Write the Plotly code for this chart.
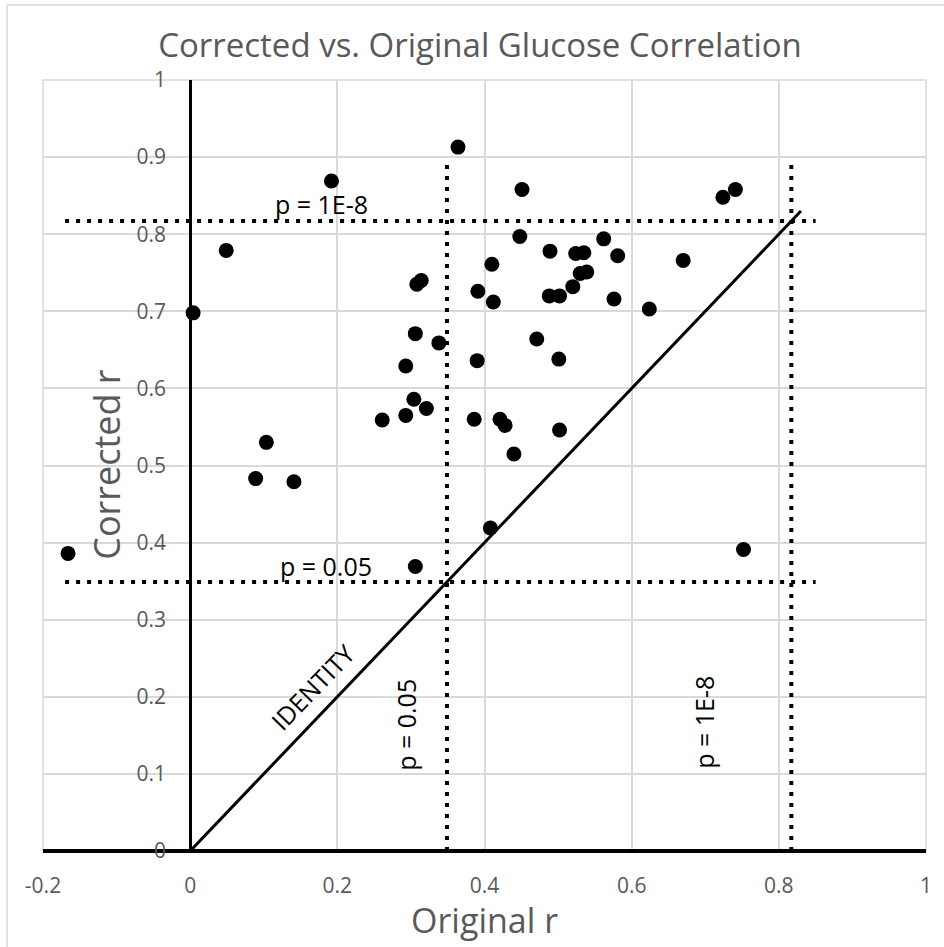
import plotly.graph_objects as go

# ---- data ----
original_r = [-0.166, 0.004, 0.049, 0.089, 0.1035, 0.141, 0.192, 0.261, 0.293, 0.293,
              0.304, 0.306, 0.306, 0.308, 0.314, 0.321, 0.338, 0.364, 0.386, 0.390,
              0.391, 0.408, 0.410, 0.412, 0.421, 0.428, 0.440, 0.448, 0.451, 0.471,
              0.488, 0.489, 0.501, 0.502, 0.502, 0.520, 0.524, 0.530, 0.535, 0.539,
              0.562, 0.576, 0.581, 0.624, 0.670, 0.724, 0.741, 0.752]
corrected_r = [0.386, 0.698, 0.779, 0.483, 0.530, 0.479, 0.869, 0.559, 0.629, 0.565,
               0.586, 0.671, 0.369, 0.735, 0.740, 0.574, 0.659, 0.913, 0.560, 0.636,
               0.726, 0.419, 0.761, 0.712, 0.560, 0.552, 0.515, 0.797, 0.858, 0.664,
               0.720, 0.778, 0.638, 0.720, 0.546, 0.732, 0.775, 0.749, 0.776, 0.751,
               0.794, 0.716, 0.772, 0.703, 0.766, 0.848, 0.858, 0.391]

thresholds_r = [0.349, 0.817]          # r at p = 0.05 and p = 1E-8
threshold_labels = ["p = 0.05", "p = 1E-8"]
hline_x_extent = [-0.17, 0.85]
vline_y_extent = [0.0, 0.89]
identity_extent = [0.0, 0.83]

x_tickvals = [-0.2, 0, 0.2, 0.4, 0.6, 0.8, 1]
x_ticktext = ["-0.2", "0", "0.2", "0.4", "0.6", "0.8", "1"]
y_tickvals = [0, 0.1, 0.2, 0.3, 0.4, 0.5, 0.6, 0.7, 0.8, 0.9, 1]
y_ticktext = ["0", "0.1", "0.2", "0.3", "0.4", "0.5", "0.6", "0.7", "0.8", "0.9", "1"]

FONT = "Open Sans"
GRAY = "#595959"
GRID = "#d9d9d9"

fig = go.Figure()

dot = dict(color="black", width=4, dash="4px,7px")
for t in thresholds_r:
    fig.add_trace(go.Scatter(x=hline_x_extent, y=[t, t], mode="lines", line=dot,
                             hoverinfo="skip", showlegend=False))
    fig.add_trace(go.Scatter(x=[t, t], y=vline_y_extent, mode="lines", line=dot,
                             hoverinfo="skip", showlegend=False))

fig.add_trace(go.Scatter(x=identity_extent, y=identity_extent, mode="lines",
                         line=dict(color="black", width=3), hoverinfo="skip", showlegend=False))

fig.add_trace(go.Scatter(x=original_r, y=corrected_r, mode="markers",
                         marker=dict(color="black", size=15, line=dict(width=0)),
                         showlegend=False))

ann_font = dict(family=FONT, size=25, color="black")
annotations = [
    dict(x=0.178, y=0.839, text=threshold_labels[1], textangle=0),
    dict(x=0.185, y=0.370, text=threshold_labels[0], textangle=0),
    dict(x=0.294, y=0.163, text=threshold_labels[0], textangle=-90),
    dict(x=0.699, y=0.167, text=threshold_labels[1], textangle=-90),
    dict(x=0.166, y=0.213, text="IDENTITY", textangle=-46),
]
for a in annotations:
    a.update(xref="x", yref="y", showarrow=False, font=ann_font,
             xanchor="center", yanchor="middle")

# axis titles as annotations (pixel-accurate placement)
annotations.append(dict(xref="paper", yref="paper", x=0.5, y=-(920 - 851) / 771,
                        text="Original r",
                        showarrow=False, font=dict(family=FONT, size=34, color=GRAY),
                        xanchor="center", yanchor="middle"))
annotations.append(dict(xref="paper", yref="paper", x=(106 - 43) / 886, y=(851 - 464) / 771,
                        text="Corrected r", textangle=-90, showarrow=False,
                        font=dict(family=FONT, size=36, color=GRAY),
                        xanchor="center", yanchor="middle"))

fig.update_layout(
    width=944, height=947,
    margin=dict(l=43, r=15, t=80, b=96),
    paper_bgcolor="white", plot_bgcolor="white",
    title=dict(text="Corrected vs. Original Glucose Correlation",
               x=480 / 944, xanchor="center", y=1 - 45 / 947, yanchor="middle",
               font=dict(family=FONT, size=33, color=GRAY)),
    annotations=annotations,
    xaxis=dict(range=[-0.2, 1], tickvals=x_tickvals, ticktext=x_ticktext,
               showgrid=True, gridcolor=GRID, gridwidth=1.5,
               zeroline=True, zerolinecolor="black", zerolinewidth=3,
               showline=False, ticks="outside", ticklen=16, tickcolor="rgba(0,0,0,0)",
               tickfont=dict(family=FONT, size=21, color=GRAY)),
    yaxis=dict(range=[0, 1], tickvals=y_tickvals, ticktext=y_ticktext,
               anchor="free", position=1 / 6,
               showgrid=True, gridcolor=GRID, gridwidth=1.5,
               zeroline=True, zerolinecolor="black", zerolinewidth=4,
               showline=False, ticks="outside", ticklen=20, tickcolor="rgba(0,0,0,0)",
               tickfont=dict(family=FONT, size=21, color=GRAY)),
    shapes=[
        dict(type="rect", xref="x domain", yref="y domain", x0=0, x1=1, y0=0, y1=1,
             line=dict(color=GRID, width=1.5), layer="below"),
        dict(type="line", xref="paper", yref="paper", x0=(7 - 43) / 886, x1=(7 - 43) / 886,
             y0=(851 - 5) / 771, y1=-0.2, line=dict(color=GRID, width=1.5)),
        dict(type="line", xref="paper", yref="paper", x0=(7 - 43) / 886, x1=1.1,
             y0=(851 - 5) / 771, y1=(851 - 5) / 771, line=dict(color=GRID, width=1.5)),
    ],
)

fig.write_html("out.html", config={"displayModeBar": False},
               post_script="document.body.style.margin='0';document.body.style.overflow='hidden';")
